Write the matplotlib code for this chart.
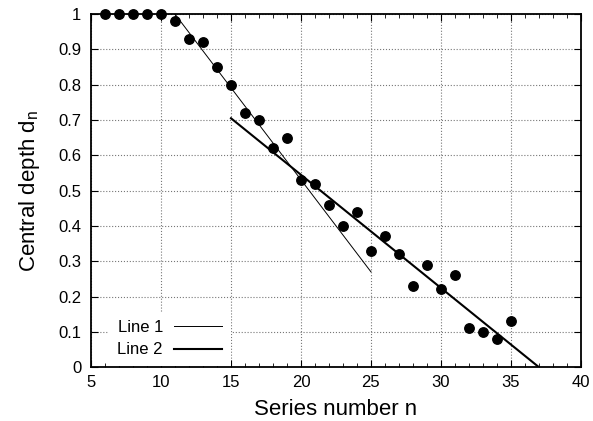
import matplotlib.pyplot as plt
import numpy as np

plt.rcParams['font.family'] = ['Liberation Sans', 'DejaVu Sans']

series_n = [6, 7, 8, 9, 10, 11, 12, 13, 14, 15, 16, 17, 18, 19, 20, 21, 22, 23,
            24, 25, 26, 27, 28, 29, 30, 31, 32, 33, 34, 35]
depth = [1.0, 1.0, 1.0, 1.0, 1.0, 0.98, 0.93, 0.92, 0.85, 0.80, 0.72, 0.70, 0.62,
         0.65, 0.53, 0.52, 0.46, 0.40, 0.44, 0.33, 0.37, 0.32, 0.23, 0.29, 0.22,
         0.26, 0.11, 0.10, 0.08, 0.13]

line1_x = [11, 25]
line1_y = [1.0, 0.27]
line2_x = [15, 37]
line2_y = [0.705, 0.0]


def main():
    fig = plt.figure(figsize=(5.93, 4.21), dpi=100)
    ax = fig.add_axes([0.1535, 0.128, 0.826, 0.8385])

    ax.plot(series_n, depth, 'o', color='black', markersize=6.8, clip_on=False, zorder=3)
    ax.plot(line1_x, line1_y, color='black', lw=0.7, label='Line 1')
    ax.plot(line2_x, line2_y, color='black', lw=1.5, label='Line 2')

    ax.set_xlim(5, 40)
    ax.set_ylim(0, 1)
    ax.set_xticks(np.arange(5, 41, 5))
    ax.set_xticks(np.arange(5, 41, 1), minor=True)
    ax.set_yticks(np.arange(0, 1.01, 0.1))
    ax.set_yticklabels(['0', '0.1', '0.2', '0.3', '0.4', '0.5', '0.6', '0.7', '0.8', '0.9', '1'])
    ax.tick_params(which='both', direction='in', top=True, right=True, labelsize=12)
    ax.tick_params(which='major', length=5)
    ax.tick_params(which='minor', length=3)
    ax.tick_params(axis='y', pad=7)
    ax.tick_params(axis='x', pad=6)
    ax.grid(True, which='major', color='#777777', linestyle=':', linewidth=0.8)
    for s in ax.spines.values():
        s.set_linewidth(1.3)

    ax.set_xlabel('Series number n', fontsize=16, labelpad=6)
    ax.set_ylabel('Central depth d$_\\mathregular{n}$', fontsize=16, labelpad=12)

    leg = ax.legend(loc='lower left', bbox_to_anchor=(0.037, 0.004), borderaxespad=0,
                    frameon=True, markerfirst=False, fontsize=12, handlelength=2.9,
                    borderpad=0.5, labelspacing=0.45, handletextpad=0.66,
                    fancybox=False)
    leg.get_frame().set_edgecolor('none')
    leg.get_frame().set_facecolor('white')
    leg.get_frame().set_alpha(1.0)

    fig.savefig('out.png', dpi=100)


if __name__ == "__main__":
    main()
